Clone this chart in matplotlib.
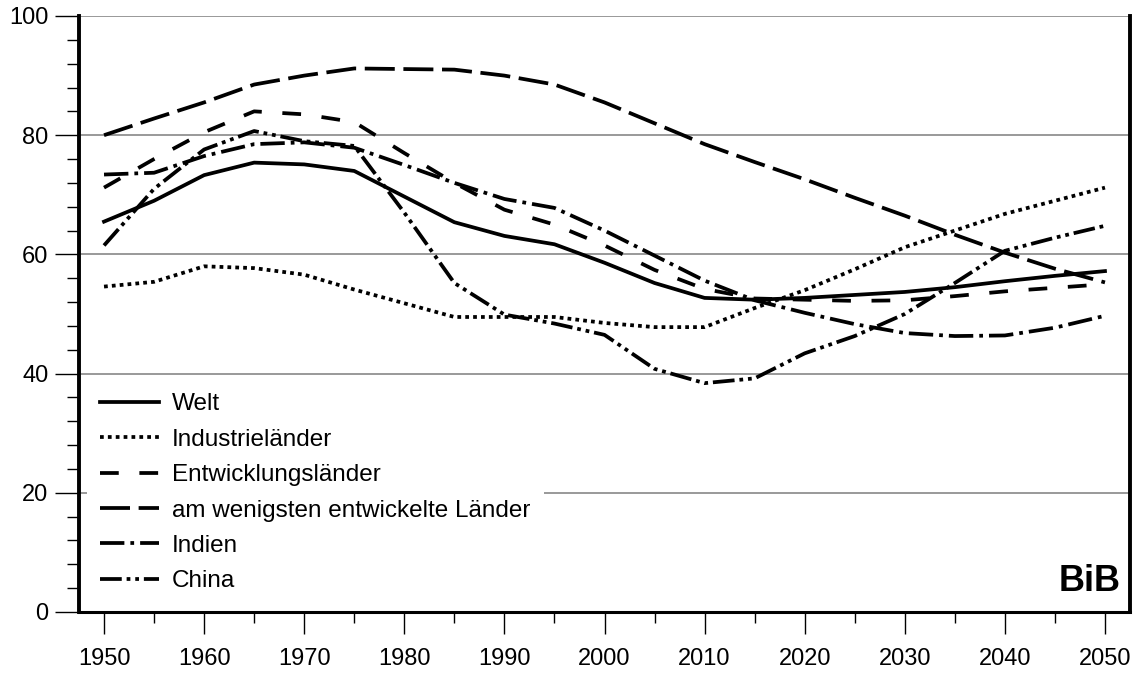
import matplotlib.pyplot as plt

plt.rcParams['font.family'] = ['Liberation Sans', 'DejaVu Sans']

years = list(range(1950, 2051, 5))

welt = [65.5, 69.0, 73.3, 75.4, 75.1, 74.0, 69.7, 65.4, 63.1, 61.7, 58.6, 55.2,
        52.7, 52.4, 52.7, 53.2, 53.7, 54.5, 55.5, 56.4, 57.2]
industrie = [54.6, 55.4, 58.0, 57.7, 56.6, 54.1, 51.8, 49.5, 49.5, 49.5, 48.5, 47.8,
             47.8, 51.0, 54.0, 57.5, 61.2, 64.0, 66.8, 69.0, 71.2]
entwicklung = [71.2, 76.0, 80.5, 84.0, 83.5, 82.2, 77.0, 72.0, 67.5, 65.0, 61.5, 57.4,
               54.2, 52.6, 52.4, 52.2, 52.3, 53.0, 53.8, 54.4, 55.0]
am_wenigsten = [80.0, 82.8, 85.5, 88.5, 90.0, 91.2, 91.1, 91.0, 90.0, 88.5, 85.5, 82.0,
                78.5, 75.5, 72.6, 69.5, 66.5, 63.3, 60.3, 57.6, 55.3]
indien = [73.4, 73.7, 76.5, 78.5, 78.8, 77.9, 75.0, 72.0, 69.3, 67.8, 64.0, 59.8,
          55.6, 52.3, 50.2, 48.3, 46.8, 46.3, 46.4, 47.7, 49.7]
china = [61.5, 71.0, 77.6, 80.7, 79.0, 78.2, 67.0, 55.2, 49.9, 48.4, 46.5, 40.8,
         38.4, 39.2, 43.4, 46.3, 50.0, 55.2, 60.6, 62.8, 64.8]

fig = plt.figure(figsize=(11.36, 6.75), dpi=100)
ax = fig.add_axes([79 / 1136, 63 / 675, 1051 / 1136, 596 / 675])

lw = 2.7
ax.plot(years, welt, color='black', lw=lw, label='Welt', zorder=3)
ax.plot(years, industrie, color='black', lw=lw, linestyle=(0, (1.0, 1.1)),
        label='Industrieländer', zorder=3)
ax.plot(years, entwicklung, color='black', lw=lw, linestyle=(0, (5, 5.5)),
        label='Entwicklungsländer', zorder=3)
ax.plot(years, am_wenigsten, color='black', lw=lw, linestyle=(0, (8, 2.3)),
        label='am wenigsten entwickelte Länder', zorder=3)
ax.plot(years, indien, color='black', lw=lw, linestyle=(0, (6.5, 1.6, 1.0, 1.6)),
        label='Indien', zorder=3)
ax.plot(years, china, color='black', lw=lw,
        linestyle=(0, (5.8, 1.3, 1.0, 1.3, 1.0, 1.3)), label='China', zorder=3)

ax.set_xlim(1947.5, 2052.5)
ax.set_ylim(0, 100)
ax.set_xticks(range(1950, 2051, 10))
ax.set_xticks(range(1955, 2050, 10), minor=True)
ax.set_yticks(range(0, 101, 20))
ax.set_yticks(range(0, 101, 4), minor=True)
ax.tick_params(axis='both', which='both', direction='out', width=1, color='black',
               labelsize=17)
ax.tick_params(axis='x', which='major', length=16, pad=10)
ax.tick_params(axis='x', which='minor', length=8)
ax.tick_params(axis='y', which='major', length=17, pad=5)
ax.tick_params(axis='y', which='minor', length=8.5)

ax.yaxis.grid(True, color='#888888', lw=1.2)
ax.set_axisbelow(True)

ax.spines['top'].set_visible(False)
ax.spines['left'].set_linewidth(2.8)
ax.spines['bottom'].set_linewidth(2.2)
ax.spines['right'].set_linewidth(2.8)

leg = ax.legend(loc='upper left', bbox_to_anchor=(87 / 1136, 1 - 380 / 675),
                bbox_transform=fig.transFigure, frameon=True, fontsize=17.5,
                handlelength=2.4, labelspacing=0.55, handletextpad=0.55,
                borderpad=0.55, borderaxespad=0, fancybox=False)
leg.get_frame().set_facecolor('white')
leg.get_frame().set_edgecolor('white')
leg.get_frame().set_linewidth(0)
leg.get_frame().set_alpha(1)

ax.text(1121 / 1136, 1 - 591 / 675, 'BiB', transform=fig.transFigure,
        ha='right', va='baseline', fontsize=26, fontweight='bold')

fig.savefig('out.png', dpi=100)
